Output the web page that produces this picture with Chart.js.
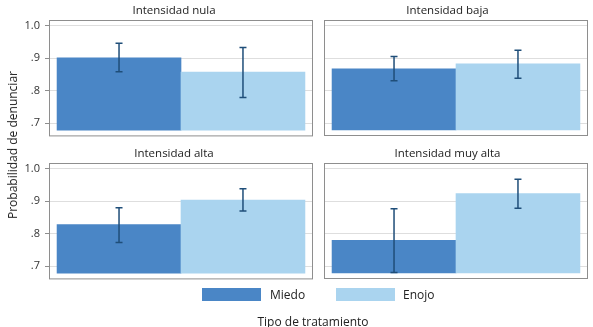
<!DOCTYPE html>
<html>
<head>
<meta charset="utf-8">
<script src="https://cdn.jsdelivr.net/npm/chart.js@4.4.0/dist/chart.umd.min.js"></script>
<style>
  body { margin: 0; background: #fff; font-family: "Open Sans", sans-serif; color: #222; }
  #wrap { position: relative; width: 593px; height: 327px; overflow: hidden; }
  canvas { position: absolute; }
  .txt { position: absolute; font-size: 12px; white-space: nowrap; line-height: 1; }
  .sw { position: absolute; width: 59px; height: 13px; }
</style>
</head>
<body>
<div id="wrap">
  <canvas id="c0" width="308" height="148" style="left:20px;top:0px"></canvas>
  <canvas id="c1" width="283" height="140" style="left:307px;top:0px"></canvas>
  <canvas id="c2" width="308" height="148" style="left:20px;top:143px"></canvas>
  <canvas id="c3" width="283" height="140" style="left:307px;top:143px"></canvas>

  <div class="txt" style="left:13px;top:145px;transform:translate(-50%,-50%) rotate(-90deg)">Probabilidad de denunciar</div>
  <div class="sw" style="left:202px;top:288px;background:#4a86c6"></div>
  <div class="txt" style="left:270px;top:289px">Miedo</div>
  <div class="sw" style="left:336px;top:288px;background:#aad4ef"></div>
  <div class="txt" style="left:403px;top:289px">Enojo</div>
  <div class="txt" style="left:313px;top:316px;transform:translateX(-50%)">Tipo de tratamiento</div>
</div>
<script>
// datos
const paneles = ['Intensidad nula', 'Intensidad baja', 'Intensidad alta', 'Intensidad muy alta'];
const categorias = ['Miedo', 'Enojo'];
const miedo = [0.901, 0.867, 0.828, 0.779];
const miedoInf = [0.858, 0.830, 0.773, 0.680];
const miedoSup = [0.946, 0.905, 0.880, 0.876];
const enojo = [0.857, 0.882, 0.903, 0.923];
const enojoInf = [0.779, 0.838, 0.870, 0.878];
const enojoSup = [0.933, 0.924, 0.938, 0.967];
const ticksY = [0.7, 0.8, 0.9, 1.0];
const etiquetasY = ['.7', '.8', '.9', '1.0'];
const baseBarra = 0.679;

const colores = ['#4a86c6', '#aad4ef'];

//Plugin para el marco de cada panel
const marco = {
  id: 'marco',
  afterDraw(chart) {
    const a = chart.chartArea;
    const ctx = chart.ctx;
    ctx.save();
    ctx.strokeStyle = '#8e8e8e';
    ctx.lineWidth = 1;
    ctx.strokeRect(a.left + 0.5, a.top + 0.5, a.right - a.left - 1, a.bottom - a.top - 1);
    ctx.restore();
  }
};

//Plugin para las barras de error
const barrasError = {
  id: 'barrasError',
  afterDatasetsDraw(chart, args, opts) {
    const meta = chart.getDatasetMeta(0);
    const y = chart.scales.y;
    const ctx = chart.ctx;
    ctx.save();
    ctx.strokeStyle = '#1f4e79';
    ctx.lineWidth = 1.5;
    opts.inf.forEach((lo, i) => {
      const x = meta.data[i].x;
      const y1 = y.getPixelForValue(lo);
      const y2 = y.getPixelForValue(opts.sup[i]);
      ctx.beginPath();
      ctx.moveTo(x, y1); ctx.lineTo(x, y2);
      ctx.moveTo(x - 3.5, y1); ctx.lineTo(x + 3.5, y1);
      ctx.moveTo(x - 3.5, y2); ctx.lineTo(x + 3.5, y2);
      ctx.stroke();
    });
    ctx.restore();
  }
};

function panel(n) {
  const izquierda = n % 2 === 0;
  const escalas = {
    x: {
      type: 'linear',
      display: false,
      offset: false,
      min: -0.565,
      max: 1.565,
      afterBuildTicks: s => { s.ticks = [{ value: 0 }, { value: 1 }]; }
    },
    y: {
      min: 0.66,
      max: 1.017,
      afterBuildTicks: s => { s.ticks = ticksY.map(v => ({ value: v })); },
      afterFit: s => { s.width = izquierda ? 29 : 17; },
      border: { display: false },
      grid: {
        color: '#dedede',
        drawTicks: izquierda,
        tickLength: 4,
        tickColor: '#8e8e8e'
      },
      ticks: {
        display: izquierda,
        padding: 5,
        color: '#333',
        font: { family: 'Open Sans', size: 11 },
        callback: (v, i) => etiquetasY[i]
      }
    }
  };
  // eje vacio a la derecha para que el titulo quede centrado como en el original
  if (izquierda) {
    escalas.y2 = {
      position: 'right',
      grid: { display: false },
      border: { display: false },
      ticks: { display: false },
      afterFit: s => { s.width = 15; }
    };
  }
  new Chart(document.getElementById('c' + n), {
    type: 'bar',
    data: {
      datasets: [{
        label: paneles[n],
        data: [{ x: 0, y: miedo[n] }, { x: 1, y: enojo[n] }],
        backgroundColor: colores,
        base: baseBarra,
        barPercentage: 1,
        categoryPercentage: 1,
        borderWidth: 0
      }]
    },
    options: {
      responsive: false,
      animation: false,
      layout: { padding: { left: 0, right: izquierda ? 0 : 2, bottom: 4, top: 0 } },
      plugins: {
        legend: { display: false },
        tooltip: { enabled: false },
        title: {
          display: true,
          text: paneles[n],
          color: '#222',
          font: { family: 'Open Sans', size: 11.5, weight: 'normal' },
          padding: { top: 4, bottom: 2.2 }
        },
        barrasError: {
          inf: [miedoInf[n], enojoInf[n]],
          sup: [miedoSup[n], enojoSup[n]]
        }
      },
      scales: escalas
    },
    plugins: [marco, barrasError]
  });
}

[0, 1, 2, 3].forEach(panel);
</script>
</body>
</html>
